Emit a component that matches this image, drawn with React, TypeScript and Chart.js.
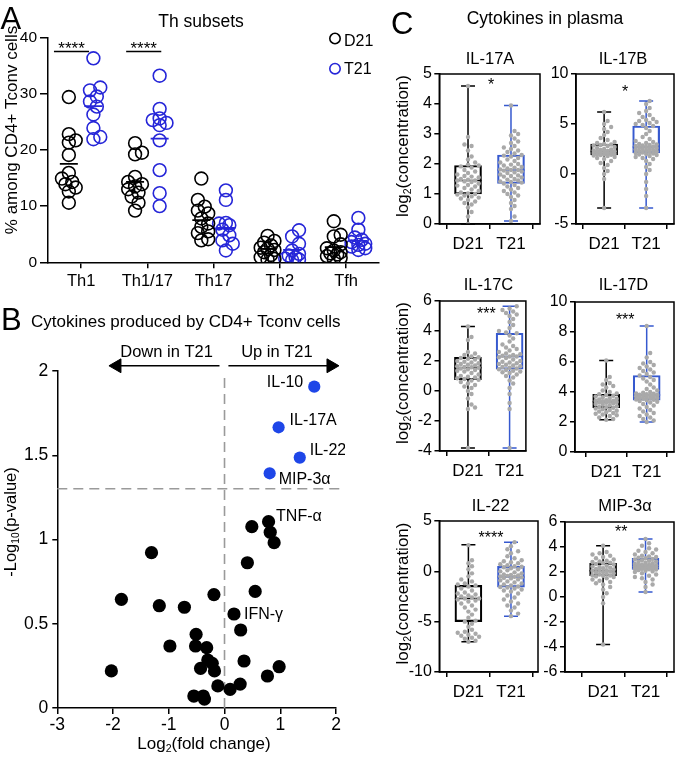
import React, { useEffect, useRef } from 'react';
import { Chart, registerables } from 'chart.js';

Chart.register(...registerables);

const FONT = '"Liberation Sans", Arial, Helvetica, sans-serif';
Chart.defaults.font.family = FONT;
Chart.defaults.color = '#000';

const BLACK = '#000000';
const BLUE_A = '#2626d8';
const BLUE_B = '#1e46e8';
const BLUE_C = '#3659cf';
const DOT_GRAY = '#a9a9a9';
const DASH_GRAY = '#9a9a9a';

/* ---------------- Panel A: Th subsets ---------------- */
const thSubsets = ['Th1', 'Th1/17', 'Th17', 'Th2', 'Tfh'];
const thGroups = ['D21', 'T21'];
const thD21 = [
  [29.4, 22.8, 21.7, 21.3, 19.1, 15.9, 14.9, 14.3, 13.9, 13.3, 12.6, 10.6],
  [21.2, 19.5, 19.2, 15.2, 14.3, 13.9, 13.5, 13.0, 12.4, 11.7, 10.6, 9.2],
  [14.9, 11.1, 9.9, 9.2, 8.7, 7.8, 6.9, 6.3, 5.5, 5.2, 4.1, 3.9],
  [4.7, 3.8, 3.5, 3.0, 2.6, 2.4, 2.2, 1.8, 1.3, 0.9, 0.6, 0.5],
  [7.3, 4.9, 4.6, 3.2, 2.5, 2.1, 1.8, 1.6, 1.4, 1.1, 0.8, 0.6],
];
const thT21 = [
  [36.3, 31.1, 30.6, 29.5, 28.6, 27.7, 26.3, 23.9, 22.3, 21.9],
  [33.2, 27.3, 25.6, 25.3, 24.8, 24.4, 21.7, 16.4, 12.3, 10.0],
  [12.8, 11.1, 7.0, 6.9, 6.6, 5.8, 4.8, 3.9, 3.3, 2.1],
  [5.7, 4.6, 3.3, 2.1, 1.5, 1.2, 0.9, 0.65, 0.5, 0.4],
  [7.9, 5.8, 4.4, 4.0, 3.6, 3.3, 3.1, 2.8, 2.5, 2.2],
];
const thD21Mean = [17.5, 14.3, 7.5, 2.4, 2.7];
const thT21Mean = [27.8, 22.0, 6.1, 2.2, 3.8];
const thSigText = ['****', '****'];
const thSigFrom = [-0.41, 0.68];
const thSigTo = [0.12, 1.21];
const thSigY = [37.5, 37.5];
const thYMax = 40;
const thYStep = 10;

/* ---------------- Panel B: volcano ---------------- */
const volSigNames = ['IL-10', 'IL-17A', 'IL-22', 'MIP-3α'];
const volSigFC = [1.61, 0.97, 1.35, 0.81];
const volSigP = [1.907, 1.666, 1.486, 1.393];
const volFC = [0.79, 0.49, 0.82, 0.89, -1.31, 0.41, -1.85, -0.19, 0.55, -1.17, -0.72, 0.17, 0.29, -0.51, -0.98, -0.52,
  -0.32, 0.35, -0.3, -0.22, 0.98, -0.43, -2.03, -0.18, 0.77, 0.28, -0.12, 0.1, -0.55, -0.38, -0.36];
const volP = [1.106, 1.076, 1.043, 0.981, 0.922, 0.862, 0.645, 0.673, 0.692, 0.607, 0.598, 0.558, 0.463, 0.437, 0.368,
  0.368, 0.358, 0.279, 0.285, 0.265, 0.245, 0.235, 0.22, 0.22, 0.19, 0.142, 0.131, 0.111, 0.071, 0.071, 0.053];
const volNamedIndex = [0, 11];
const volNamedText = ['TNF-α', 'IFN-γ'];
const volThreshold = 1.301;
const volXRange = [-3, 2];
const volYRange = [0, 2];
const volArrowText = ['Down in T21', 'Up in T21'];

/* ---------------- Panel C: cytokines in plasma ---------------- */
const cytoNames = ['IL-17A', 'IL-17B', 'IL-17C', 'IL-17D', 'IL-22', 'MIP-3α'];
const cytoGroups = ['D21', 'T21'];
const cytoYMin = [0, -5, -4, 0, -10, -6];
const cytoYMax = [5, 10, 6, 10, 5, 6];
const cytoYStep = [1, 5, 2, 2, 5, 2];
const cytoStars = ['*', '*', '***', '***', '****', '**'];
const cytoStarY = [4.8, 8.7, 5.45, 9.1, 3.8, 5.6];
// [min, q1, median, q3, max]
const cytoD21Box = [
  [0.0, 1.0, 1.45, 1.95, 4.6],
  [-3.4, 1.9, 2.25, 3.0, 6.2],
  [-3.8, 0.75, 1.55, 2.25, 4.3],
  [2.15, 2.95, 3.35, 3.85, 6.1],
  [-7.0, -5.0, -2.7, -1.4, 2.65],
  [-3.8, 1.7, 2.1, 2.7, 4.1],
];
const cytoT21Box = [
  [0.1, 1.35, 1.8, 2.3, 3.95],
  [-3.4, 2.1, 2.7, 4.8, 7.3],
  [-3.8, 1.45, 2.3, 3.85, 5.65],
  [2.0, 3.45, 3.8, 5.1, 8.4],
  [-4.45, -1.57, -0.57, 0.49, 2.9],
  [0.4, 2.2, 2.5, 3.1, 4.65],
];
const cytoD21Points = [
  [4.6, 2.9, 2.65, 2.6, 2.45, 2.25, 2.15, 2.05, 1.98, 1.95, 1.92, 1.88, 1.8, 1.75, 1.7, 1.65, 1.6, 1.58, 1.55, 1.5,
    1.48, 1.45, 1.45, 1.42, 1.4, 1.35, 1.3, 1.28, 1.25, 1.2, 1.15, 1.1, 1.05, 1.02, 1.0, 0.98, 0.95, 0.92, 0.88, 0.85,
    0.8, 0.75, 0.7, 0.65, 0.55, 0.4, 0.25, 0.0],
  [6.2, 5.3, 5.0, 4.7, 4.5, 4.2, 3.9, 3.6, 3.4, 3.2, 3.1, 3.0, 2.95, 2.9, 2.85, 2.8, 2.7, 2.6, 2.5, 2.45, 2.4, 2.35,
    2.3, 2.28, 2.25, 2.2, 2.18, 2.15, 2.1, 2.05, 2.0, 1.98, 1.95, 1.92, 1.9, 1.85, 1.8, 1.7, 1.6, 1.5, 1.3, 1.1, 0.9,
    0.6, 0.3, 0.0, -0.5, -3.4],
  [4.3, 3.6, 3.4, 2.6, 2.5, 2.4, 2.3, 2.25, 2.2, 2.15, 2.1, 2.0, 1.95, 1.9, 1.85, 1.8, 1.75, 1.7, 1.65, 1.6, 1.58,
    1.55, 1.5, 1.45, 1.4, 1.35, 1.3, 1.2, 1.1, 1.0, 0.95, 0.9, 0.85, 0.8, 0.75, 0.7, 0.6, 0.5, 0.4, 0.3, 0.2, 0.0,
    -0.2, -0.5, -0.9, -1.1, -1.2, -3.8],
  [6.1, 5.0, 4.8, 4.6, 4.5, 4.4, 4.3, 4.1, 4.0, 3.9, 3.85, 3.8, 3.75, 3.7, 3.65, 3.6, 3.55, 3.5, 3.45, 3.42, 3.4,
    3.38, 3.35, 3.33, 3.3, 3.28, 3.25, 3.2, 3.15, 3.1, 3.05, 3.0, 2.98, 2.95, 2.9, 2.85, 2.8, 2.75, 2.7, 2.65, 2.6,
    2.55, 2.5, 2.45, 2.4, 2.3, 2.2, 2.15],
  [2.6, 1.1, 0.8, 0.5, 0.2, -0.2, -0.5, -0.8, -1.0, -1.2, -1.3, -1.4, -1.5, -1.7, -1.9, -2.1, -2.2, -2.3, -2.4, -2.5,
    -2.6, -2.7, -2.7, -2.8, -2.9, -3.0, -3.2, -3.4, -3.6, -3.8, -4.0, -4.3, -4.6, -4.9, -5.0, -5.2, -5.5, -5.8, -6.0,
    -6.1, -6.2, -6.3, -6.4, -6.5, -6.6, -6.7, -6.9, -7.0],
  [4.1, 3.6, 3.5, 3.4, 3.3, 3.2, 3.1, 3.0, 2.9, 2.85, 2.8, 2.75, 2.7, 2.65, 2.6, 2.5, 2.45, 2.4, 2.35, 2.3, 2.25, 2.2,
    2.15, 2.1, 2.1, 2.05, 2.0, 1.95, 1.9, 1.85, 1.8, 1.75, 1.72, 1.7, 1.65, 1.6, 1.5, 1.4, 1.3, 1.2, 1.1, 1.0, 0.8,
    0.6, 0.3, 0.0, -0.5, -3.8],
];
const cytoT21Points = [
  [3.95, 3.1, 3.0, 2.95, 2.85, 2.75, 2.7, 2.6, 2.55, 2.5, 2.45, 2.4, 2.35, 2.3, 2.28, 2.25, 2.2, 2.15, 2.1, 2.05, 2.0,
    1.98, 1.95, 1.9, 1.88, 1.85, 1.82, 1.8, 1.8, 1.78, 1.75, 1.72, 1.7, 1.65, 1.62, 1.6, 1.58, 1.55, 1.5, 1.48, 1.45,
    1.42, 1.4, 1.38, 1.35, 1.3, 1.25, 1.2, 1.15, 1.1, 1.05, 1.0, 0.95, 0.9, 0.8, 0.7, 0.6, 0.5, 0.25, 0.1],
  [7.3, 7.0, 6.6, 6.3, 6.1, 5.9, 5.7, 5.5, 5.4, 5.3, 5.2, 5.1, 5.0, 4.9, 4.8, 4.6, 4.3, 4.0, 3.7, 3.5, 3.3, 3.2, 3.1,
    3.0, 2.95, 2.9, 2.85, 2.8, 2.75, 2.7, 2.65, 2.6, 2.55, 2.5, 2.45, 2.4, 2.35, 2.3, 2.25, 2.2, 2.15, 2.1, 2.05, 2.0,
    1.95, 1.9, 1.8, 1.7, 1.6, 1.5, 1.3, 1.0, 0.7, 0.4, 0.0, -0.8, -1.5, -2.2, -3.4],
  [5.65, 5.5, 5.4, 5.3, 5.2, 5.1, 5.0, 4.8, 4.6, 4.4, 4.2, 4.0, 3.9, 3.85, 3.7, 3.5, 3.3, 3.1, 3.0, 2.9, 2.8, 2.7,
    2.6, 2.5, 2.45, 2.4, 2.35, 2.3, 2.3, 2.25, 2.2, 2.1, 2.0, 1.95, 1.9, 1.85, 1.8, 1.75, 1.7, 1.65, 1.6, 1.55, 1.5,
    1.45, 1.4, 1.35, 1.3, 1.25, 1.2, 1.1, 1.0, 0.9, 0.7, 0.5, 0.2, -0.2, -0.8, -1.2, -3.8],
  [8.4, 6.6, 6.3, 6.0, 5.9, 5.8, 5.7, 5.6, 5.5, 5.4, 5.3, 5.2, 5.1, 5.0, 4.9, 4.8, 4.7, 4.5, 4.3, 4.2, 4.1, 4.0, 3.95,
    3.9, 3.88, 3.85, 3.82, 3.8, 3.78, 3.75, 3.72, 3.7, 3.68, 3.65, 3.6, 3.58, 3.55, 3.5, 3.48, 3.45, 3.4, 3.35, 3.3,
    3.2, 3.1, 3.0, 2.9, 2.8, 2.7, 2.6, 2.5, 2.4, 2.3, 2.2, 2.1, 2.0],
  [2.9, 2.5, 2.2, 2.0, 1.8, 1.5, 1.3, 1.1, 1.0, 0.9, 0.8, 0.7, 0.6, 0.5, 0.45, 0.4, 0.3, 0.2, 0.1, 0.0, -0.1, -0.2,
    -0.3, -0.35, -0.4, -0.45, -0.5, -0.55, -0.6, -0.65, -0.7, -0.8, -0.9, -1.0, -1.1, -1.2, -1.3, -1.4, -1.5, -1.55,
    -1.6, -1.7, -1.8, -1.9, -2.0, -2.2, -2.4, -2.6, -2.8, -3.0, -3.2, -3.4, -3.6, -3.9, -4.2, -4.45],
  [4.65, 4.3, 4.1, 3.9, 3.8, 3.7, 3.6, 3.5, 3.4, 3.3, 3.25, 3.2, 3.15, 3.1, 3.05, 3.0, 2.95, 2.9, 2.85, 2.8, 2.75, 2.7,
    2.65, 2.6, 2.58, 2.55, 2.52, 2.5, 2.48, 2.45, 2.42, 2.4, 2.38, 2.35, 2.32, 2.3, 2.28, 2.25, 2.22, 2.2, 2.15, 2.1,
    2.05, 2.0, 1.9, 1.8, 1.7, 1.6, 1.5, 1.4, 1.2, 1.0, 0.8, 0.4],
];

/* ---------------- layout (pixels, page coordinates) ---------------- */
const A_BOX = { left: 0, top: 0, width: 390, height: 300 };
const A_AREA = { l: 48, t: 37.5, r: 385, b: 262.3 };
const B_BOX = { left: 0, top: 300, width: 345, height: 457 };
const B_AREA = { l: 57.3, t: 371, r: 340, b: 708 };
const C_FRAMES = [
  { l: 439.3, t: 74, r: 541, b: 224, c0: 468.3, c1: 511.7, title: [490, 58], starX: 0.54, leftCol: true },
  { l: 576, t: 74, r: 677, b: 224, c0: 605, c1: 648.3, title: [623, 58], starX: 0.5, leftCol: false },
  { l: 439.5, t: 300.7, r: 527, b: 451, c0: 468.3, c1: 510.5, title: [488.5, 283.5], starX: 0.44, leftCol: true },
  { l: 575, t: 301.5, r: 676.5, b: 451.7, c0: 607, c1: 648.5, title: [623.5, 283.5], starX: 0.47, leftCol: false },
  { l: 439.3, t: 520.7, r: 539, b: 671.7, c0: 468.7, c1: 511.7, title: [490.5, 505], starX: 0.53, leftCol: true },
  { l: 565, t: 521.7, r: 676, b: 672, c0: 603.8, c1: 647, title: [625, 505], starX: 0.43, leftCol: false },
];

/* ---------------- helpers ---------------- */
type Part = { t: string; sub?: boolean };
type Txt = {
  parts: Part[];
  x: number;
  y: number;
  data?: boolean;
  dx?: number;
  dy?: number;
  size: number;
  align?: 'left' | 'center' | 'right';
  rotate?: boolean;
  color?: string;
  star?: boolean;
};
const plain = (t: string): Part[] => [{ t }];

function drawTxt(ctx: CanvasRenderingContext2D, s: Txt, X: number, Y: number) {
  const S = s.size;
  const subS = S * 0.62;
  const fontOf = (sz: number) => `${sz}px ${FONT}`;
  ctx.save();
  ctx.fillStyle = s.color || BLACK;
  ctx.textAlign = 'left';
  ctx.textBaseline = 'alphabetic';
  let w = 0;
  const widths = s.parts.map((p) => {
    ctx.font = fontOf(p.sub ? subS : S);
    const m = ctx.measureText(p.t).width;
    w += m;
    return m;
  });
  ctx.translate(X, Y);
  if (s.rotate) ctx.rotate(-Math.PI / 2);
  let x0 = s.align === 'left' ? 0 : s.align === 'right' ? -w : -w / 2;
  const base = (s.star ? 0.6 : 0.358) * S;
  s.parts.forEach((p, i) => {
    ctx.font = fontOf(p.sub ? subS : S);
    ctx.fillText(p.t, x0, base + (p.sub ? 0.2 * S : 0));
    x0 += widths[i];
  });
  ctx.restore();
}

function textLayer(id: string, items: Txt[], ox: number, oy: number) {
  return {
    id,
    afterDatasetsDraw(chart: any) {
      const ctx = chart.ctx as CanvasRenderingContext2D;
      items.forEach((s) => {
        const X = s.data ? chart.scales.x.getPixelForValue(s.x) : s.x - ox;
        const Y = s.data ? chart.scales.y.getPixelForValue(s.y) : s.y - oy;
        drawTxt(ctx, s, X + (s.dx || 0), Y + (s.dy || 0));
      });
    },
  };
}

// simple beeswarm layout: returns horizontal pixel offsets for each value
function swarm(values: number[], pxPerUnit: number, minDist: number, step: number, maxOff: number): number[] {
  const order = values.map((_, i) => i).sort((a, b) => values[a] - values[b]);
  const cands = [0];
  for (let s = step; s <= maxOff + 1e-9; s += step) cands.push(s, -s);
  const placed: { x: number; y: number }[] = [];
  const out = new Array(values.length).fill(0);
  order.forEach((i) => {
    const y = values[i] * pxPerUnit;
    let best = 0;
    let bestD = -1;
    for (const c of cands) {
      let d = Infinity;
      for (const p of placed) {
        const dd = Math.hypot(p.x - c, p.y - y);
        if (dd < d) d = dd;
      }
      if (d >= minDist) {
        best = c;
        break;
      }
      if (d > bestD) {
        bestD = d;
        best = c;
      }
    }
    placed.push({ x: best, y });
    out[i] = best;
  });
  return out;
}

function axis(tickLen: number, fontSize: number, pad: number, extraTicks: any = {}) {
  return {
    grid: { display: true, drawOnChartArea: false, drawTicks: true, tickLength: tickLen, color: BLACK, lineWidth: 1.5 },
    border: { display: true, color: BLACK, width: 1.5 },
    ticks: { color: BLACK, font: { size: fontSize, family: FONT }, padding: pad, maxRotation: 0, minRotation: 0, autoSkip: false, ...extraTicks },
  };
}

const baseOptions = {
  responsive: false,
  animation: false as const,
  devicePixelRatio: 1,
  events: [] as any[],
  plugins: { legend: { display: false }, tooltip: { enabled: false }, title: { display: false } },
};

/* ---------------- Panel A config ---------------- */
function makeA(): any {
  const box = A_BOX;
  const ar = A_AREA;
  const span = (ar.r - ar.l) / thSubsets.length;
  const pxPerUnit = (ar.b - ar.t) / thYMax;
  const gOff = 12.5 / span;
  const pts = (vals: number[][], side: number) =>
    vals.flatMap((g, i) => {
      const offs = swarm(g, pxPerUnit, 8, 3.5, 7);
      return g.map((v, k) => ({ x: i + side * gOff + offs[k] / span, y: v }));
    });
  const means = (m: number[], side: number) => m.map((v, i) => ({ x: i + side * gOff, y: v }));

  const datasets: any[] = [
    { type: 'scatter', label: thGroups[0], data: pts(thD21, -1), pointRadius: 6.4, borderWidth: 1.6, borderColor: BLACK, backgroundColor: 'rgba(0,0,0,0)' },
    { type: 'scatter', label: thGroups[1], data: pts(thT21, 1), pointRadius: 6.4, borderWidth: 1.6, borderColor: BLUE_A, backgroundColor: 'rgba(0,0,0,0)' },
    { type: 'scatter', data: means(thD21Mean, -1), pointStyle: 'line', pointRadius: 9, borderWidth: 1.8, borderColor: BLACK },
    { type: 'scatter', data: means(thT21Mean, 1), pointStyle: 'line', pointRadius: 9, borderWidth: 1.8, borderColor: BLUE_A },
  ];
  thSigText.forEach((_, i) => {
    datasets.push({
      type: 'scatter', showLine: true, pointRadius: 0, borderColor: BLACK, borderWidth: 1.5, clip: false,
      data: [{ x: thSigFrom[i], y: thSigY[i] }, { x: thSigTo[i], y: thSigY[i] }],
    });
  });

  const texts: Txt[] = [
    { parts: plain('A'), x: 0.5, y: 18, size: 31, align: 'left' },
    { parts: plain('Th subsets'), x: 201, y: 21, size: 17.5 },
    { parts: plain('% among CD4+ Tconv cells'), x: 11, y: 130, size: 17, rotate: true },
    { parts: plain(thGroups[0]), x: 344, y: 40, size: 16, align: 'left' },
    { parts: plain(thGroups[1]), x: 344, y: 68, size: 16, align: 'left' },
    ...thSigText.map((t, i) => ({ parts: plain(t), x: (thSigFrom[i] + thSigTo[i]) / 2, y: thSigY[i], data: true, dy: -8, size: 17, star: true } as Txt)),
  ];

  const legendMarks = {
    id: 'legendMarks',
    afterDatasetsDraw(chart: any) {
      const ctx = chart.ctx as CanvasRenderingContext2D;
      ctx.save();
      ctx.lineWidth = 1.6;
      [[BLACK, 38.5], [BLUE_A, 68.7]].forEach(([c, y]) => {
        ctx.strokeStyle = c as string;
        ctx.beginPath();
        ctx.arc(335 - box.left, (y as number) - box.top, 5.2, 0, Math.PI * 2);
        ctx.stroke();
      });
      ctx.restore();
    },
  };

  return {
    type: 'scatter',
    data: { datasets },
    options: {
      ...baseOptions,
      layout: { padding: { top: ar.t - box.top, right: box.left + box.width - ar.r, left: 0, bottom: 0 } },
      scales: {
        x: {
          type: 'linear', min: -0.5, max: thSubsets.length - 0.5,
          ...axis(6, 16.5, 3, { callback: (v: number) => thSubsets[v] ?? '' }),
          afterBuildTicks: (s: any) => { s.ticks = thSubsets.map((_, i) => ({ value: i })); },
          afterFit: (s: any) => { s.height = box.top + box.height - ar.b; },
        },
        y: {
          type: 'linear', min: 0, max: thYMax,
          ...axis(8, 15.5, 3, { stepSize: thYStep }),
          afterFit: (s: any) => { s.width = ar.l - box.left; },
        },
      },
    },
    plugins: [legendMarks, textLayer('textA', texts, box.left, box.top)],
  };
}

/* ---------------- Panel B config ---------------- */
function makeB(): any {
  const box = B_BOX;
  const ar = B_AREA;
  const arrowY = 2.031;
  const datasets: any[] = [
    { type: 'scatter', data: volFC.map((x, i) => ({ x, y: volP[i] })), pointRadius: 6.6, borderWidth: 0, backgroundColor: BLACK },
    { type: 'scatter', data: volSigFC.map((x, i) => ({ x, y: volSigP[i] })), pointRadius: 6.1, borderWidth: 0, backgroundColor: BLUE_B },
    { type: 'scatter', showLine: true, pointRadius: 0, borderColor: DASH_GRAY, borderWidth: 1.6, borderDash: [10, 6], clip: false,
      data: [{ x: 0, y: 0 }, { x: 0, y: 1.99 }] },
    { type: 'scatter', showLine: true, pointRadius: 0, borderColor: DASH_GRAY, borderWidth: 1.6, borderDash: [10, 6], clip: false,
      data: [{ x: volXRange[0], y: volThreshold }, { x: 2.09, y: volThreshold }] },
    { type: 'scatter', showLine: true, borderColor: BLACK, borderWidth: 1.6, clip: false,
      pointStyle: 'triangle', pointRadius: [0, 8], pointRotation: [0, -90], pointBackgroundColor: BLACK, pointBorderColor: BLACK, pointBorderWidth: 1,
      data: [{ x: -0.09, y: arrowY }, { x: -1.93, y: arrowY }] },
    { type: 'scatter', showLine: true, borderColor: BLACK, borderWidth: 1.6, clip: false,
      pointStyle: 'triangle', pointRadius: [0, 8], pointRotation: [0, 90], pointBackgroundColor: BLACK, pointBorderColor: BLACK, pointBorderWidth: 1,
      data: [{ x: 0.07, y: arrowY }, { x: 1.91, y: arrowY }] },
  ];
  const sigOffsets = [
    { dx: -11, dy: -5, align: 'right' },
    { dx: 11, dy: -8.5, align: 'left' },
    { dx: 10, dy: -8, align: 'left' },
    { dx: 9, dy: 5, align: 'left' },
  ];
  const namedOffsets = [
    { dx: 7.5, dy: -6.5 },
    { dx: 10, dy: -0.5 },
  ];
  const texts: Txt[] = [
    { parts: plain('B'), x: 1, y: 319, size: 31, align: 'left' },
    { parts: plain('Cytokines produced by CD4+ Tconv cells'), x: 31, y: 321, size: 17, align: 'left' },
    { parts: plain(volArrowText[0]), x: -1.04, y: 2.12, data: true, size: 16.5 },
    { parts: plain(volArrowText[1]), x: 0.94, y: 2.12, data: true, size: 16.5 },
    ...volSigNames.map((n, i) => ({ parts: plain(n), x: volSigFC[i], y: volSigP[i], data: true, size: 16, dx: sigOffsets[i].dx, dy: sigOffsets[i].dy, align: sigOffsets[i].align } as Txt)),
    ...volNamedIndex.map((idx, i) => ({ parts: plain(volNamedText[i]), x: volFC[idx], y: volP[idx], data: true, size: 16, dx: namedOffsets[i].dx, dy: namedOffsets[i].dy, align: 'left' } as Txt)),
    { parts: [{ t: 'Log' }, { t: '2', sub: true }, { t: '(fold change)' }], x: 204, y: 743, size: 17 },
    { parts: [{ t: '-Log' }, { t: '10', sub: true }, { t: '(p-value)' }], x: 10, y: 522, size: 16.5, rotate: true },
  ];
  return {
    type: 'scatter',
    data: { datasets },
    options: {
      ...baseOptions,
      layout: { padding: { top: ar.t - box.top, right: box.left + box.width - ar.r, left: 0, bottom: 0 } },
      scales: {
        x: {
          type: 'linear', min: volXRange[0], max: volXRange[1],
          ...axis(6, 17.5, 1, { stepSize: 1, callback: (v: number) => String(v) }),
          afterFit: (s: any) => { s.height = box.top + box.height - ar.b; },
        },
        y: {
          type: 'linear', min: volYRange[0], max: volYRange[1],
          ...axis(5, 17.5, 4, { stepSize: 0.5, callback: (v: number) => String(v) }),
          afterFit: (s: any) => { s.width = ar.l - box.left; },
        },
      },
    },
    plugins: [textLayer('textB', texts, box.left, box.top)],
  };
}

/* ---------------- Panel C configs ---------------- */
function cytoBox(i: number) {
  const f = C_FRAMES[i];
  const left = f.leftCol ? 388 : f.l - 44;
  const top = f.t - 40;
  const right = Math.min(f.r + 3, 678);
  const bottom = f.b + 36;
  return { left, top, width: right - left, height: bottom - top };
}

function makeCyto(i: number): any {
  const f = C_FRAMES[i];
  const box = cytoBox(i);
  const sp = f.c1 - f.c0;
  const pxPerUnit = (f.b - f.t) / (cytoYMax[i] - cytoYMin[i]);
  const boxes = [cytoD21Box[i], cytoT21Box[i]];
  const colors = [BLACK, BLUE_C];
  const dots = (vals: number[], g: number) => {
    const offs = swarm(vals, pxPerUnit, 4.6, 3.6, 11);
    return vals.map((v, k) => ({ x: g + offs[k] / sp, y: v }));
  };
  const datasets: any[] = [
    { type: 'scatter', order: 0, data: [...dots(cytoD21Points[i], 0), ...dots(cytoT21Points[i], 1)], pointRadius: 2.2, borderWidth: 0, backgroundColor: DOT_GRAY },
    { type: 'bar', order: 1, data: boxes.map((b, g) => ({ x: g, y: [b[1], b[3]] })), borderColor: colors, backgroundColor: 'rgba(0,0,0,0)',
      borderWidth: 1.5, borderSkipped: false, barThickness: 27 },
  ];
  const whiskers = {
    id: 'whiskers' + i,
    beforeDatasetsDraw(chart: any) {
      const ctx = chart.ctx as CanvasRenderingContext2D;
      const xs = chart.scales.x;
      const ys = chart.scales.y;
      ctx.save();
      ctx.lineWidth = 1.5;
      boxes.forEach((b, g) => {
        const cx = xs.getPixelForValue(g);
        const p = b.map((v) => ys.getPixelForValue(v));
        ctx.strokeStyle = colors[g];
        ctx.beginPath();
        ctx.moveTo(cx, p[0]); ctx.lineTo(cx, p[1]);
        ctx.moveTo(cx, p[3]); ctx.lineTo(cx, p[4]);
        ctx.moveTo(cx - 7, p[0]); ctx.lineTo(cx + 7, p[0]);
        ctx.moveTo(cx - 7, p[4]); ctx.lineTo(cx + 7, p[4]);
        ctx.moveTo(cx - 13.5, p[2]); ctx.lineTo(cx + 13.5, p[2]);
        ctx.stroke();
      });
      ctx.restore();
    },
  };
  const frame = {
    id: 'frame' + i,
    afterDatasetsDraw(chart: any) {
      const { ctx, chartArea: a } = chart;
      ctx.save();
      ctx.strokeStyle = BLACK;
      ctx.lineWidth = 1.5;
      ctx.strokeRect(a.left, a.top, a.right - a.left, a.bottom - a.top);
      ctx.restore();
    },
  };
  const texts: Txt[] = [
    { parts: plain(cytoNames[i]), x: f.title[0], y: f.title[1], size: 16.5 },
    { parts: plain(cytoStars[i]), x: f.starX, y: cytoStarY[i], data: true, size: 16, star: true },
  ];
  if (f.leftCol) {
    texts.push({ parts: [{ t: 'log' }, { t: '2', sub: true }, { t: '(concentration)' }], x: 402, y: (f.t + f.b) / 2 - 3, size: 17, rotate: true });
  }
  return {
    type: 'scatter',
    data: { datasets },
    options: {
      ...baseOptions,
      layout: { padding: { top: f.t - box.top, right: box.left + box.width - f.r, left: 0, bottom: 0 } },
      scales: {
        x: {
          type: 'linear', min: (f.l - f.c0) / sp, max: 1 + (f.r - f.c1) / sp, offset: false,
          ...axis(5, 17, 5, { callback: (v: number) => cytoGroups[v] ?? '' }),
          afterBuildTicks: (s: any) => { s.ticks = cytoGroups.map((_, g) => ({ value: g })); },
          afterFit: (s: any) => { s.height = box.top + box.height - f.b; },
        },
        y: {
          type: 'linear', min: cytoYMin[i], max: cytoYMax[i],
          ...axis(5, 16, 2.5, { stepSize: cytoYStep[i] }),
          afterFit: (s: any) => { s.width = f.l - box.left; },
        },
      },
    },
    plugins: [whiskers, frame, textLayer('textC' + i, texts, box.left, box.top)],
  };
}

/* ---------------- components ---------------- */
function ChartCanvas({ box, make }: { box: { left: number; top: number; width: number; height: number }; make: () => any }) {
  const ref = useRef<HTMLCanvasElement>(null);
  useEffect(() => {
    const chart = new Chart(ref.current as HTMLCanvasElement, make());
    return () => chart.destroy();
  }, []);
  return (
    <canvas
      ref={ref}
      width={box.width}
      height={box.height}
      style={{ position: 'absolute', left: box.left, top: box.top, width: box.width, height: box.height }}
    />
  );
}

function HtmlText({ text, x, y, size, center }: { text: string; x: number; y: number; size: number; center?: boolean }) {
  return (
    <div
      style={{
        position: 'absolute', left: x, top: y - 0.4885 * size, fontFamily: FONT, fontSize: size, lineHeight: `${size}px`,
        whiteSpace: 'nowrap', transform: center ? 'translateX(-50%)' : undefined, color: BLACK,
      }}
    >
      {text}
    </div>
  );
}

export default function App() {
  return (
    <div style={{ position: 'absolute', left: 0, top: 0, width: 678, height: 757, background: '#fff', overflow: 'hidden' }}>
      <ChartCanvas box={A_BOX} make={makeA} />
      <ChartCanvas box={B_BOX} make={makeB} />
      {C_FRAMES.map((_, i) => (
        <ChartCanvas key={i} box={cytoBox(i)} make={() => makeCyto(i)} />
      ))}
      <HtmlText text="C" x={391} y={23} size={31} />
      <HtmlText text="Cytokines in plasma" x={545} y={19} size={17.5} center />
    </div>
  );
}
